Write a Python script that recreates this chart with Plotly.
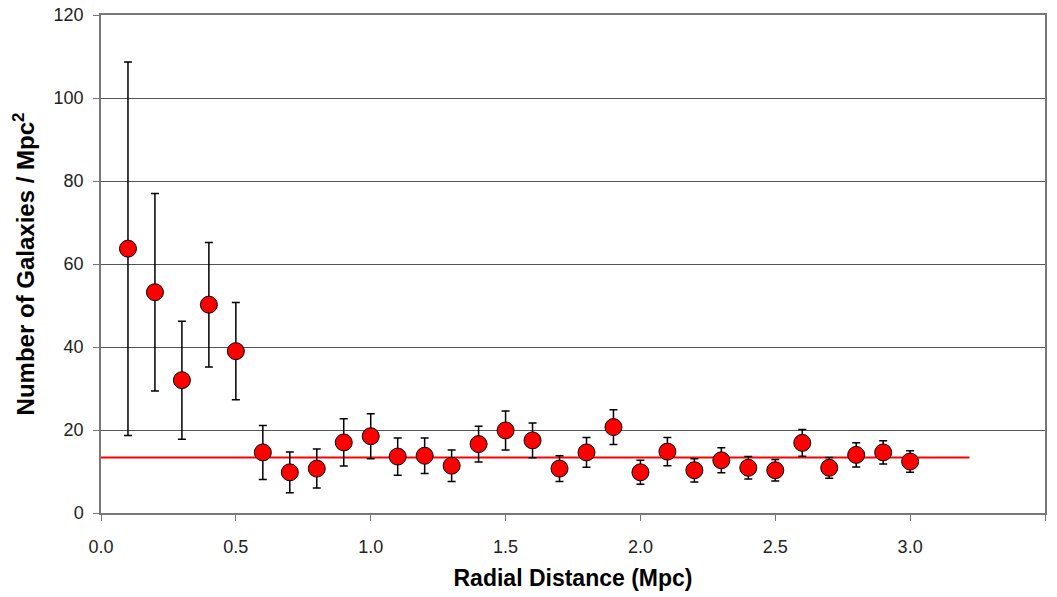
import plotly.graph_objects as go

radius = [0.1, 0.2, 0.3, 0.4, 0.5, 0.6, 0.7, 0.8, 0.9, 1.0,
          1.1, 1.2, 1.3, 1.4, 1.5, 1.6, 1.7, 1.8, 1.9, 2.0,
          2.1, 2.2, 2.3, 2.4, 2.5, 2.6, 2.7, 2.8, 2.9, 3.0]
density = [63.7, 53.2, 32.0, 50.2, 39.0, 14.6, 9.8, 10.7, 17.0, 18.5,
           13.6, 13.8, 11.4, 16.6, 19.9, 17.5, 10.7, 14.6, 20.7, 9.8,
           14.8, 10.3, 12.7, 10.9, 10.3, 16.9, 10.9, 14.0, 14.6, 12.4]
error = [45.0, 23.8, 14.2, 15.0, 11.7, 6.5, 4.9, 4.7, 5.7, 5.4,
         4.5, 4.3, 3.8, 4.3, 4.7, 4.2, 3.1, 3.6, 4.2, 2.9,
         3.4, 2.8, 3.0, 2.7, 2.6, 3.2, 2.5, 2.9, 2.8, 2.6]
mean_x = [0.0, 3.22]
mean_y = [13.4, 13.4]

fig = go.Figure()
fig.add_trace(go.Scatter(
    x=mean_x, y=mean_y, mode="lines",
    line=dict(color="#ff0000", width=2), showlegend=False, hoverinfo="skip"))
fig.add_trace(go.Scatter(
    x=radius, y=density, mode="markers",
    marker=dict(size=17, color="#ff0000", line=dict(color="#000000", width=1)),
    error_y=dict(type="data", array=error, visible=True, color="#000000",
                 thickness=1.5, width=4),
    showlegend=False))

font_family = "Liberation Sans, Arial, sans-serif"
fig.update_layout(
    width=1057, height=597,
    margin=dict(l=101, r=12, t=15, b=84),
    paper_bgcolor="white", plot_bgcolor="white",
    font=dict(family=font_family, color="#000000"),
    xaxis=dict(
        range=[0, 3.5], tickvals=[0, 0.5, 1.0, 1.5, 2.0, 2.5, 3.0, 3.5],
        ticktext=["0.0", "0.5", "1.0", "1.5", "2.0", "2.5", "3.0", "3.5"],
        ticks="outside", ticklen=6, tickcolor="#777777",
        showline=True, linecolor="#777777", linewidth=1.5, mirror=True,
        showgrid=False, zeroline=False, automargin=False,
        ticklabelstandoff=11,
        tickfont=dict(size=18, color="#222222"),
        title=dict(text="<b>Radial Distance (Mpc)</b>", font=dict(size=23), standoff=14),
    ),
    yaxis=dict(
        range=[0, 120], tickvals=[0, 20, 40, 60, 80, 100, 120],
        ticks="outside", ticklen=6, tickcolor="#777777",
        showline=True, linecolor="#777777", linewidth=1.5, mirror=True,
        showgrid=True, gridcolor="#555555", gridwidth=1, zeroline=False,
        automargin=False, ticklabelstandoff=6,
        tickfont=dict(size=18, color="#222222"),
        title=dict(text="<b>Number of Galaxies / Mpc<sup>2</sup></b>", font=dict(size=24), standoff=12),
    ),
)

fig.write_html("out.html")
